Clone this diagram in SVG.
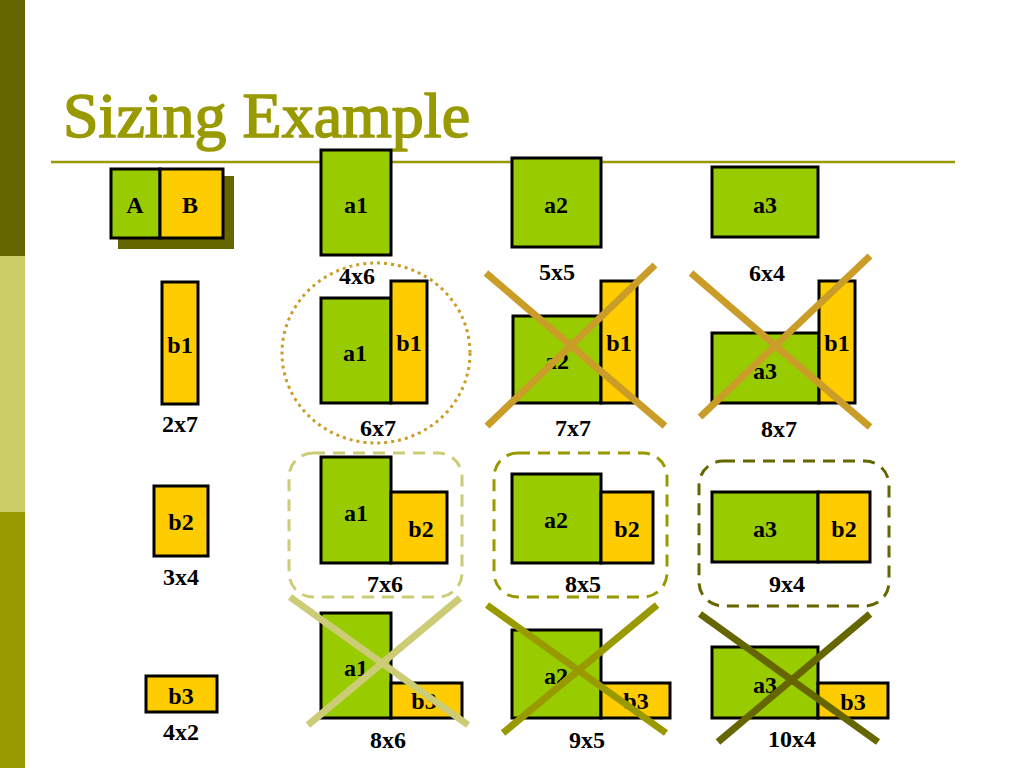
<svg xmlns="http://www.w3.org/2000/svg" width="1024" height="768" viewBox="0 0 1024 768">
<style>
.g{fill:#99CC00;stroke:#000;stroke-width:3}
.y{fill:#FFCC00;stroke:#000;stroke-width:3}
.t{font-family:"Liberation Serif","Times New Roman",serif;font-weight:bold;font-size:24px;fill:#000;text-anchor:middle}
.x{stroke-width:7;fill:none}
</style>
<rect width="1024" height="768" fill="#fff"/>
<rect x="0" y="0" width="25" height="256" fill="#666600"/>
<rect x="0" y="256" width="25" height="256" fill="#CCCC66"/>
<rect x="0" y="512" width="25" height="256" fill="#999900"/>
<text x="63" y="137" font-family="'Liberation Serif','Times New Roman',serif" font-size="64" fill="#999900" stroke="#999900" stroke-width="1.6">Sizing Example</text>
<line x1="51" y1="162" x2="955" y2="162" stroke="#999900" stroke-width="2.5"/>

<g id="AB">
<rect x="118" y="176" width="116" height="73" fill="#666600"/>
<rect class="g" x="111" y="169" width="49" height="69"/>
<rect class="y" x="160" y="169" width="63" height="69"/>
<text class="t" x="135" y="213">A</text>
<text class="t" x="190" y="213">B</text>
</g>

<g id="a1-top">
<rect class="g" x="321" y="150" width="70" height="105"/>
<text class="t" x="356" y="213">a1</text>
<text class="t" x="357" y="284">4x6</text>
</g>
<g id="a2-top">
<rect class="g" x="512" y="158" width="89" height="89"/>
<text class="t" x="556" y="213">a2</text>
<text class="t" x="557" y="280">5x5</text>
</g>
<g id="a3-top">
<rect class="g" x="712" y="167" width="106" height="70"/>
<text class="t" x="765" y="213">a3</text>
<text class="t" x="767" y="281">6x4</text>
</g>

<g id="b1">
<rect class="y" x="162" y="282" width="36" height="122"/>
<text class="t" x="180" y="353">b1</text>
<text class="t" x="180" y="432">2x7</text>
</g>
<g id="b2">
<rect class="y" x="154" y="486" width="54" height="70"/>
<text class="t" x="181" y="530">b2</text>
<text class="t" x="181" y="585">3x4</text>
</g>
<g id="b3">
<rect class="y" x="146" y="676" width="71" height="36"/>
<text class="t" x="181" y="704">b3</text>
<text class="t" x="181" y="740">4x2</text>
</g>

<g id="a1b1">
<ellipse cx="376" cy="353" rx="94" ry="90" fill="none" stroke="#C99D28" stroke-width="3" stroke-dasharray="3 4"/>
<rect class="g" x="321" y="298" width="70" height="105"/>
<rect class="y" x="391" y="281" width="36" height="122"/>
<text class="t" x="355" y="361">a1</text>
<text class="t" x="409" y="351">b1</text>
<text class="t" x="378" y="436">6x7</text>
</g>
<g id="a2b1">
<rect class="g" x="513" y="316" width="88" height="87"/>
<rect class="y" x="601" y="281" width="36" height="122"/>
<text class="t" x="557" y="369">a2</text>
<text class="t" x="619" y="351">b1</text>
<text class="t" x="573" y="436">7x7</text>
</g>
<g id="a3b1">
<rect class="g" x="712" y="333" width="107" height="70"/>
<rect class="y" x="819" y="281" width="36" height="122"/>
<text class="t" x="765" y="379">a3</text>
<text class="t" x="837" y="351">b1</text>
<text class="t" x="779" y="437">8x7</text>
</g>

<g id="a1b2">
<rect x="289" y="453" width="173" height="144" rx="24" fill="none" stroke="#CCCC77" stroke-width="3" stroke-dasharray="12 8"/>
<rect class="g" x="321" y="457" width="70" height="106"/>
<rect class="y" x="391" y="492" width="56" height="71"/>
<text class="t" x="356" y="521">a1</text>
<text class="t" x="421" y="537">b2</text>
<text class="t" x="385" y="592">7x6</text>
</g>
<g id="a2b2">
<rect x="494" y="453" width="173" height="144" rx="24" fill="none" stroke="#999900" stroke-width="3" stroke-dasharray="12 8"/>
<rect class="g" x="512" y="474" width="89" height="89"/>
<rect class="y" x="601" y="492" width="52" height="71"/>
<text class="t" x="556" y="528">a2</text>
<text class="t" x="627" y="537">b2</text>
<text class="t" x="583" y="592">8x5</text>
</g>
<g id="a3b2">
<rect x="699" y="461" width="190" height="145" rx="24" fill="none" stroke="#666600" stroke-width="3" stroke-dasharray="12 8"/>
<rect class="g" x="712" y="492" width="106" height="70"/>
<rect class="y" x="818" y="492" width="52" height="70"/>
<text class="t" x="765" y="537">a3</text>
<text class="t" x="844" y="537">b2</text>
<text class="t" x="787" y="592">9x4</text>
</g>

<g id="a1b3">
<rect class="g" x="321" y="613" width="70" height="105"/>
<rect class="y" x="391" y="683" width="71" height="35"/>
<text class="t" x="356" y="676">a1</text>
<text class="t" x="424" y="709">b3</text>
<text class="t" x="388" y="748">8x6</text>
</g>
<g id="a2b3">
<rect class="g" x="512" y="630" width="89" height="88"/>
<rect class="y" x="601" y="683" width="69" height="35"/>
<text class="t" x="556" y="684">a2</text>
<text class="t" x="636" y="709">b3</text>
<text class="t" x="587" y="748">9x5</text>
</g>
<g id="a3b3">
<rect class="g" x="712" y="647" width="106" height="71"/>
<rect class="y" x="818" y="683" width="70" height="35"/>
<text class="t" x="765" y="693">a3</text>
<text class="t" x="853" y="710">b3</text>
<text class="t" x="792" y="747">10x4</text>
</g>

<g id="crosses">
<g class="x" stroke="#C99D28">
<line x1="486" y1="273" x2="665" y2="426"/>
<line x1="655" y1="265" x2="487" y2="426"/>
<line x1="691" y1="273" x2="870" y2="427"/>
<line x1="870" y1="256" x2="700" y2="417"/>
</g>
<g class="x" stroke="#CCCC77">
<line x1="290" y1="597" x2="468" y2="725"/>
<line x1="460" y1="598" x2="308" y2="725"/>
</g>
<g class="x" stroke="#999900">
<line x1="487" y1="605" x2="666" y2="733"/>
<line x1="657" y1="605" x2="503" y2="733"/>
</g>
<g class="x" stroke="#666600">
<line x1="700" y1="614" x2="878" y2="742"/>
<line x1="870" y1="614" x2="718" y2="742"/>
</g>
</g>
</svg>
